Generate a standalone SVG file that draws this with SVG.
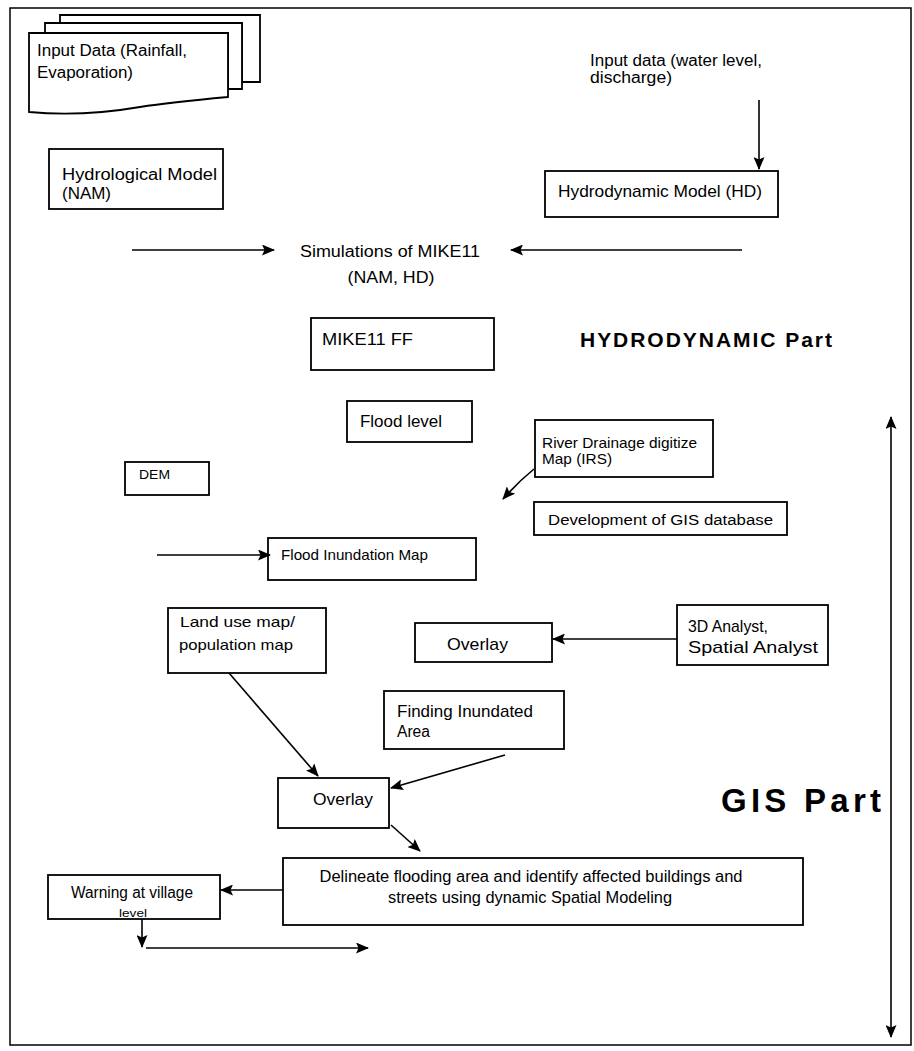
<svg xmlns="http://www.w3.org/2000/svg" width="914" height="1051" viewBox="0 0 914 1051">
<style>
.box{fill:#fff;stroke:#000;stroke-width:1.8}
.t{font-family:"Liberation Sans",Arial,sans-serif;font-size:16px;fill:#000}
.b{font-weight:bold}
.c{stroke:#000;stroke-width:1.6;fill:none}
</style>
<defs>
<marker id="ah" viewBox="0 0 13 11" refX="12" refY="5.5" markerWidth="13" markerHeight="11" markerUnits="userSpaceOnUse" orient="auto-start-reverse">
<path d="M0,0 L13,5.5 L0,11 L2.5,5.5 Z" fill="#000"/>
</marker>
</defs>
<rect x="0" y="0" width="914" height="1051" fill="#fff"/>
<rect id="frame" x="10" y="8" width="901" height="1037" fill="none" stroke="#000" stroke-width="1.5"/>

<g id="input-rainfall">
<path class="box" d="M60,15 H260 V82 H242 V23 H60 Z"/>
<path class="box" d="M45,23 H242 V89 H228 V33 H45 Z"/>
<path class="box" d="M29,33 H228 V97 C195,100 165,103 140,107 C105,113 70,116 29,112 Z"/>
<text class="t" x="37" y="56" textLength="150" lengthAdjust="spacingAndGlyphs">Input Data (Rainfall,</text>
<text class="t" x="37" y="78" textLength="96" lengthAdjust="spacingAndGlyphs">Evaporation)</text>
</g>

<g id="hydrological-model">
<rect class="box" x="49" y="149" width="174" height="60"/>
<text class="t" x="62" y="180" textLength="155" lengthAdjust="spacingAndGlyphs">Hydrological Model</text>
<text class="t" x="62" y="199" textLength="49" lengthAdjust="spacingAndGlyphs">(NAM)</text>
</g>

<g id="input-water">
<text class="t" x="590" y="66" textLength="172" lengthAdjust="spacingAndGlyphs">Input data (water level,</text>
<text class="t" x="590" y="83" textLength="82" lengthAdjust="spacingAndGlyphs">discharge)</text>
</g>

<g id="hydrodynamic-model">
<rect class="box" x="545" y="171" width="233" height="46"/>
<text class="t" x="558" y="197" style="font-size:17px" textLength="204" lengthAdjust="spacingAndGlyphs">Hydrodynamic Model (HD)</text>
</g>

<g id="simulations">
<text class="t" x="390" y="257" text-anchor="middle" textLength="180" lengthAdjust="spacingAndGlyphs">Simulations of MIKE11</text>
<text class="t" x="391" y="283" text-anchor="middle" textLength="87" lengthAdjust="spacingAndGlyphs">(NAM, HD)</text>
</g>

<g id="mike11ff">
<rect class="box" x="311" y="318" width="183" height="52"/>
<text class="t" x="322" y="345" textLength="91" lengthAdjust="spacingAndGlyphs">MIKE11 FF</text>
</g>

<g id="hydrodynamic-part">
<text class="t b" x="580" y="347" style="font-size:21px" textLength="252" lengthAdjust="spacing">HYDRODYNAMIC Part</text>
</g>

<g id="flood-level">
<rect class="box" x="347" y="401" width="125" height="41"/>
<text class="t" x="360" y="427" textLength="82" lengthAdjust="spacingAndGlyphs">Flood level</text>
</g>

<g id="river-drainage">
<rect class="box" x="535" y="420" width="178" height="57"/>
<text class="t" x="542" y="448" style="font-size:15px" textLength="155" lengthAdjust="spacingAndGlyphs">River Drainage digitize</text>
<text class="t" x="542" y="464" style="font-size:15px" textLength="70" lengthAdjust="spacingAndGlyphs">Map (IRS)</text>
</g>

<g id="dem">
<rect class="box" x="125" y="462" width="84" height="33"/>
<text class="t" x="139" y="479" style="font-size:12px" textLength="31" lengthAdjust="spacingAndGlyphs">DEM</text>
</g>

<g id="gis-database">
<rect class="box" x="534" y="502" width="253" height="33"/>
<text class="t" x="548" y="525" style="font-size:14px" textLength="225" lengthAdjust="spacingAndGlyphs">Development of GIS database</text>
</g>

<g id="flood-inundation-map">
<rect class="box" x="268" y="538" width="208" height="42"/>
<text class="t" x="281" y="560" style="font-size:15px" textLength="147" lengthAdjust="spacingAndGlyphs">Flood Inundation Map</text>
</g>

<g id="land-use-map">
<rect class="box" x="168" y="608" width="158" height="65"/>
<text class="t" x="180" y="627" style="font-size:15px" textLength="115" lengthAdjust="spacingAndGlyphs">Land use map/</text>
<text class="t" x="179" y="650" style="font-size:15px" textLength="114" lengthAdjust="spacingAndGlyphs">population map</text>
</g>

<g id="overlay-1">
<rect class="box" x="415" y="623" width="137" height="39"/>
<text class="t" x="447" y="650" style="font-size:17px" textLength="61" lengthAdjust="spacingAndGlyphs">Overlay</text>
</g>

<g id="analyst">
<rect class="box" x="677" y="605" width="151" height="60"/>
<text class="t" x="688" y="632" style="font-size:17px" textLength="80" lengthAdjust="spacingAndGlyphs">3D Analyst,</text>
<text class="t" x="688" y="653" style="font-size:17px" textLength="130" lengthAdjust="spacingAndGlyphs">Spatial Analyst</text>
</g>

<g id="finding-inundated">
<rect class="box" x="384" y="691" width="180" height="58"/>
<text class="t" x="397" y="717" style="font-size:17px" textLength="136" lengthAdjust="spacingAndGlyphs">Finding Inundated</text>
<text class="t" x="397" y="737" textLength="33" lengthAdjust="spacingAndGlyphs">Area</text>
</g>

<g id="overlay-2">
<rect class="box" x="278" y="778" width="111" height="50"/>
<text class="t" x="313" y="805" style="font-size:17px" textLength="60" lengthAdjust="spacingAndGlyphs">Overlay</text>
</g>

<g id="gis-part">
<text class="t b" x="721" y="812" style="font-size:33px" textLength="160" lengthAdjust="spacing">GIS Part</text>
</g>

<g id="delineate">
<rect class="box" x="283" y="858" width="520" height="67"/>
<text class="t" x="531" y="882" text-anchor="middle" textLength="423" lengthAdjust="spacingAndGlyphs">Delineate flooding area and identify affected buildings and</text>
<text class="t" x="530" y="903" text-anchor="middle" textLength="284" lengthAdjust="spacingAndGlyphs">streets using dynamic Spatial Modeling</text>
</g>

<g id="warning">
<rect class="box" x="48" y="875" width="172" height="44"/>
<text class="t" x="132" y="898" text-anchor="middle" textLength="122" lengthAdjust="spacingAndGlyphs">Warning at village</text>
<text class="t" x="133" y="917" style="font-size:10px" text-anchor="middle" textLength="28" lengthAdjust="spacingAndGlyphs">level</text>
</g>

<g id="connectors">
<line class="c" x1="759" y1="100" x2="759" y2="169" marker-end="url(#ah)"/>
<line class="c" x1="132" y1="250" x2="274" y2="250" marker-end="url(#ah)"/>
<line class="c" x1="742" y1="250" x2="511" y2="250" marker-end="url(#ah)"/>
<path class="c" d="M534,469 Q518,482 503,499" marker-end="url(#ah)"/>
<line class="c" x1="157" y1="555" x2="270" y2="555" marker-end="url(#ah)"/>
<line class="c" x1="677" y1="639" x2="553" y2="639" marker-end="url(#ah)"/>
<line class="c" x1="229" y1="673" x2="318" y2="776" marker-end="url(#ah)"/>
<line class="c" x1="505" y1="755" x2="391" y2="788" marker-end="url(#ah)"/>
<line class="c" x1="391" y1="825" x2="420" y2="851" marker-end="url(#ah)"/>
<line class="c" x1="283" y1="890" x2="221" y2="890" marker-end="url(#ah)"/>
<line class="c" x1="142" y1="919" x2="142" y2="947" marker-end="url(#ah)"/>
<line class="c" x1="146" y1="948" x2="368" y2="948" marker-end="url(#ah)"/>
<line class="c" x1="891" y1="417" x2="891" y2="1037" marker-start="url(#ah)" marker-end="url(#ah)"/>
</g>
</svg>
